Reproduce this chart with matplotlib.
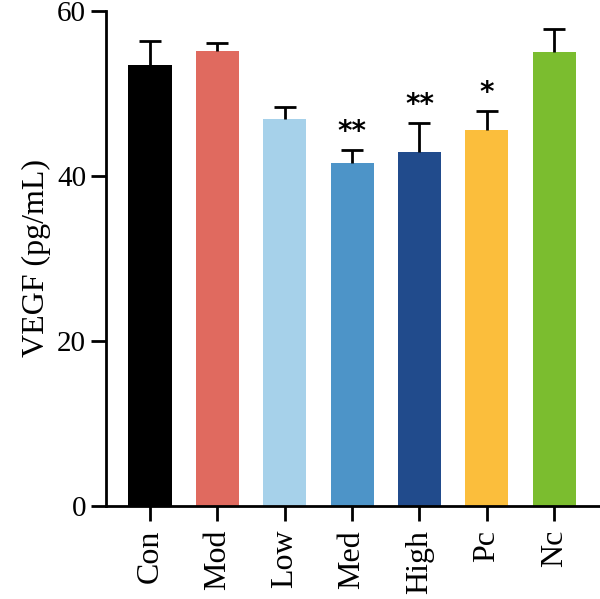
import matplotlib
matplotlib.use("Agg")
import matplotlib.pyplot as plt
import numpy as np

groups = ["Con", "Mod", "Low", "Med", "High", "Pc", "Nc"]
means = [53.4, 55.1, 46.9, 41.6, 42.9, 45.6, 55.0]
errors = [3.0, 1.0, 1.5, 1.5, 3.5, 2.3, 2.8]
marks = ["", "", "", "**", "**", "*", ""]
colors = ["#000000", "#E06A5F", "#A6D1EA", "#4D94C8", "#214B8C", "#FBBE3C", "#7BBD2F"]
yticks = [0, 20, 40, 60]

plt.rcParams["font.family"] = ["Liberation Serif", "DejaVu Serif"]

fig = plt.figure(figsize=(6.0, 5.99), dpi=100)
ax = fig.add_axes([0.177, 0.155, 0.823, 0.827])

x = np.arange(len(groups))
ax.bar(x, means, width=0.64, color=colors, zorder=2)
_, caps, _ = ax.errorbar(x, means, yerr=[np.zeros(len(errors)), errors],
                         fmt="none", ecolor="black", elinewidth=2,
                         capsize=8, capthick=2, zorder=3)
# keep only the upper cap
for cap in caps:
    if np.allclose(cap.get_ydata(), means):
        cap.set_visible(False)

for xi, m, e, s in zip(x, means, errors, marks):
    if s:
        ax.text(xi, m + e + 0.5, s, ha="center", va="bottom", fontsize=20,
                family=["DejaVu Sans"], fontweight="bold")

ax.set_xlim(-0.65, 6.68)
ax.set_ylim(0, 60)
ax.set_yticks(yticks)
ax.set_xticks(x)
ax.set_xticklabels(groups, rotation=90, fontsize=23)
ax.tick_params(axis="y", labelsize=21)
ax.tick_params(axis="both", width=2, length=11, direction="out")
ax.tick_params(axis="x", pad=6)
ax.set_ylabel("VEGF (pg/mL)", fontsize=23, labelpad=4)
ax.spines[["top", "right"]].set_visible(False)
ax.spines["left"].set_linewidth(2)
ax.spines["bottom"].set_linewidth(2)

fig.savefig("out.png", dpi=100, facecolor="white")
